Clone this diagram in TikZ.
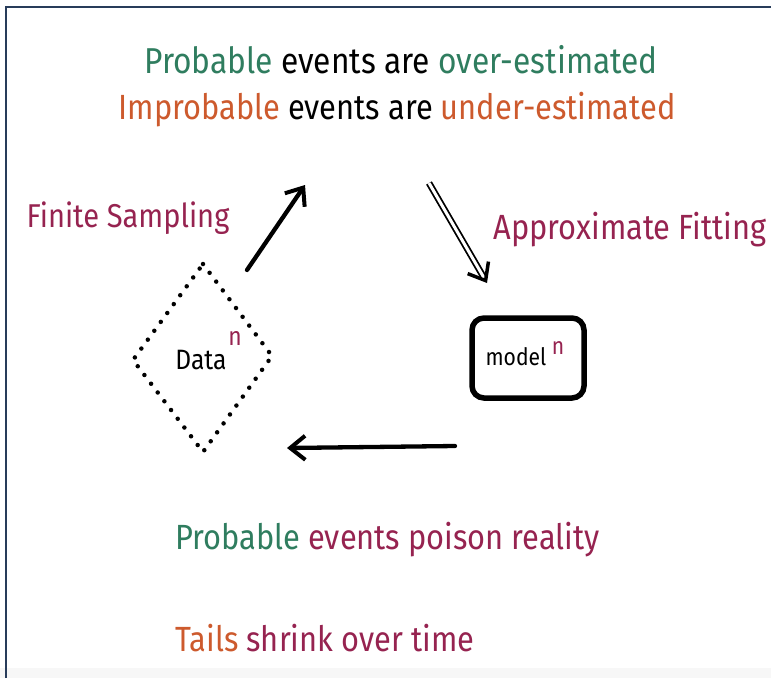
\documentclass[tikz,border=0pt]{standalone}
\usepackage{fontspec}
\setmainfont[FakeStretch=0.88]{Fira Sans}
\usetikzlibrary{arrows.meta,shapes.geometric}
\definecolor{cgreen}{RGB}{47,125,95}
\definecolor{corange}{RGB}{205,90,45}
\definecolor{cmaroon}{RGB}{150,35,80}
\definecolor{cframe}{RGB}{40,60,90}
\tikzset{
  txt/.style={inner sep=0pt, anchor=center, font=\fontsize{36}{38}\selectfont},
  arr/.style={line width=4.3pt, line cap=round, -{Straight Barb[length=15pt, width=24pt, line width=4pt]}},
  darr/.style={double, double distance=3pt, line width=1.8pt, -{Straight Barb[length=15pt, width=24pt, line width=3.5pt]}},
}
\begin{document}
\begin{tikzpicture}[x=1pt, y=-1pt]
\useasboundingbox (0,0) rectangle (771,678);
\fill[white] (0,0) rectangle (771,678);
\fill[black!3] (0,668) rectangle (771,678);
\draw[cframe, line width=2pt] (6,678) -- (6,7) -- (771,7);
% top lines
\node[txt] (t1) at (401,60) {\textcolor{cgreen}{Probable} events are \textcolor{cgreen}{over-estimated}};
\node[txt, font=\fontsize{35}{37}\selectfont] (t2) at (397,110) {\textcolor{corange}{Improbable} events are \textcolor{corange}{under-estimated}};
\node[txt, text=cmaroon, font=\fontsize{33}{35}\selectfont] (fs) at (128,218) {Finite Sampling};
\node[txt, text=cmaroon, font=\fontsize{35}{37}\selectfont] (af) at (630,230) {Approximate Fitting};
% data diamond
\draw[line width=4.5pt, line cap=round, dash pattern=on 0pt off 11pt] (203,264) -- (272,356) -- (203,452) -- (133,360) -- cycle;
\node[inner sep=0pt, font=\fontsize{28}{30}\selectfont] (data) at (201,360) {Data};
\node[inner sep=0pt, font=\fontsize{26}{26}\selectfont, text=cmaroon] (dn) at (235,338) {n};
% model box
\draw[line width=5.5pt, rounded corners=12pt] (472,318) rectangle (584,398);
\node[inner sep=0pt, font=\fontsize{24}{25}\selectfont] (model) at (516,357) {model};
\node[inner sep=0pt, font=\fontsize{24}{24}\selectfont, text=cmaroon] (mn) at (558,348) {n};
% arrows
\coordinate (a1s) at (247,270); \coordinate (a1e) at (305,185);
\coordinate (a2s) at (429,183); \coordinate (a2e) at (487,283);
\coordinate (a3s) at (455,446); \coordinate (a3e) at (287,448);
\draw[arr] (a1s) -- (a1e);
\draw[darr] (a2s) -- (a2e);
\draw[arr] (a3s) -- (a3e);
% bottom lines
\node[txt, anchor=west, font=\fontsize{35}{37}\selectfont] (b1) at (175,540) {\textcolor{cgreen}{Probable} \textcolor{cmaroon}{events poison reality}};
\node[txt, anchor=west, font=\fontsize{35}{37}\selectfont] (b2) at (175,638) {\textcolor{corange}{Tails} \textcolor{cmaroon}{shrink over time}};
\end{tikzpicture}
\end{document}
